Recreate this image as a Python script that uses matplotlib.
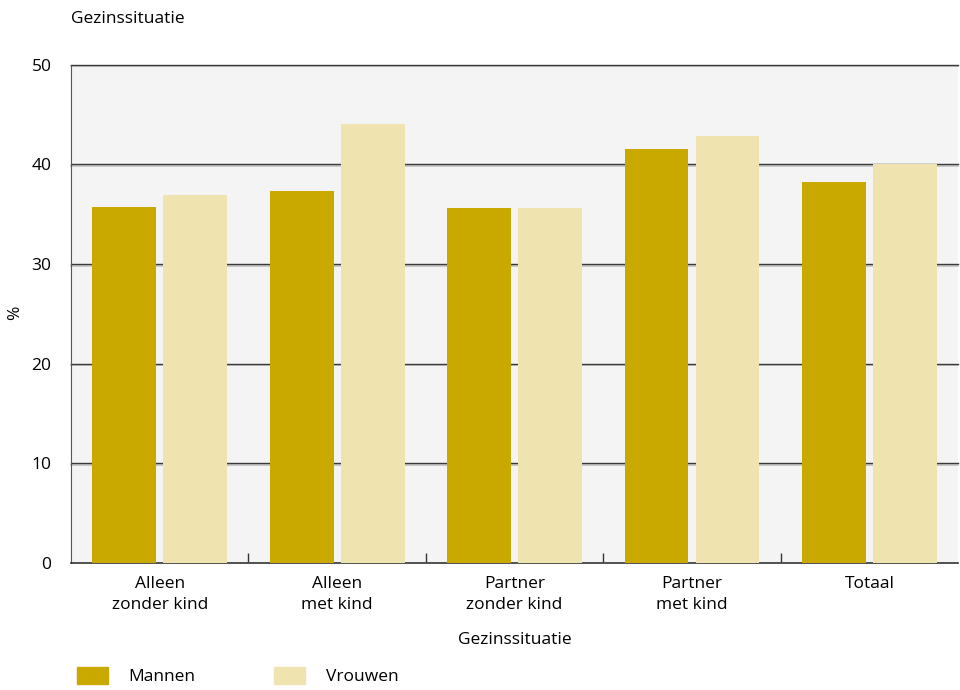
import numpy as np
import matplotlib.pyplot as plt
import matplotlib.transforms as mtransforms
from matplotlib.patches import Patch

categories = ["Alleen\nzonder kind", "Alleen\nmet kind", "Partner\nzonder kind",
              "Partner\nmet kind", "Totaal"]
mannen = [35.7, 37.3, 35.6, 41.6, 38.2]
vrouwen = [36.9, 44.1, 35.6, 42.9, 40.0]
yticks = [0, 10, 20, 30, 40, 50]

plt.rcParams["font.family"] = ["Open Sans", "DejaVu Sans"]
plt.rcParams["font.size"] = 12.5

fig = plt.figure(figsize=(9.6, 6.9), dpi=100)
ax = fig.add_axes([0.074, 0.184, 0.924, 0.722])
ax.set_facecolor("#f4f4f4")

x = np.arange(len(categories))
w = 0.36
gap = 0.04
ax.bar(x - (w + gap) / 2, mannen, w, color="#c9a800", zorder=3)
ax.bar(x + (w + gap) / 2, vrouwen, w, color="#efe4b0", zorder=3)

ax.set_xlim(-0.5, len(categories) - 0.5)
ax.set_ylim(0, 50)

# gridlines with light shadow underneath
blend = ax.get_yaxis_transform()
shadow = blend + mtransforms.ScaledTranslation(0, -1.5 / 100, fig.dpi_scale_trans)
for yv in yticks[1:]:
    ax.plot([0, 1], [yv, yv], color="#c0c0c0", lw=1.2, zorder=1, transform=shadow,
            clip_on=False)
    ax.plot([0, 1], [yv, yv], color="#3a3a3a", lw=1.0, zorder=2, transform=blend,
            clip_on=False)

ax.set_yticks(yticks)
ax.set_xticks(x)
ax.set_xticklabels(categories, linespacing=1.45)
ax.tick_params(axis="x", length=0, pad=9)
ax.tick_params(axis="y", length=0, pad=14)

# group separator ticks
for b in x[:-1] + 0.5:
    ax.plot([b, b], [0.15, 1.0], color="#333333", lw=1.0, zorder=4,
            solid_capstyle="butt")

for s in ["top", "right"]:
    ax.spines[s].set_visible(False)
ax.spines["left"].set_color("#555555")
ax.spines["bottom"].set_color("#333333")
ax.spines["bottom"].set_linewidth(1.2)

ax.set_xlabel("Gezinssituatie", labelpad=14)
fig.text(0.016, 0.546, "%", rotation=90, ha="center", va="center")
fig.text(0.074, 0.973, "Gezinssituatie", ha="left", va="center")

handles = [Patch(color="#c9a800", label="Mannen"), Patch(color="#efe4b0", label="Vrouwen")]
fig.legend(handles=handles, loc="lower left", bbox_to_anchor=(0.069, -0.008), ncol=2,
           frameon=False, handlelength=1.8, handleheight=1.15, columnspacing=4.5,
           handletextpad=1.2, borderaxespad=0.2)

plt.savefig("out.png", dpi=100)
